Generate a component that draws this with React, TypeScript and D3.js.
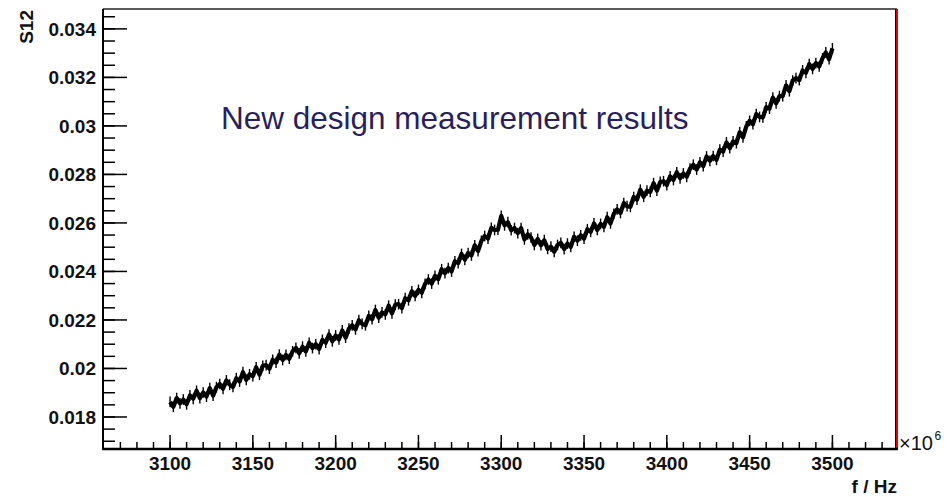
import React from "react";
import * as d3 from "d3";

// S12 measurement, one value every 2 MHz from 3100 to 3500 MHz (values in units of 1e-5)
const freqStartMHz = 3100;
const freqStepMHz = 2;
const s12e5: number[] = [
  1862, 1842, 1878, 1856, 1872, 1852, 1889, 1875, 1908, 1878,
  1901, 1884, 1919, 1888, 1923, 1936, 1916, 1951, 1933, 1924,
  1960, 1946, 1985, 1953, 1976, 1968, 2005, 1974, 2011, 2014,
  1999, 2036, 2024, 2057, 2035, 2056, 2040, 2071, 2085, 2062,
  2090, 2070, 2106, 2084, 2100, 2080, 2118, 2106, 2140, 2112,
  2136, 2120, 2157, 2127, 2164, 2178, 2161, 2199, 2184, 2178,
  2217, 2203, 2241, 2209, 2231, 2223, 2259, 2227, 2263, 2265,
  2249, 2290, 2281, 2318, 2299, 2324, 2312, 2349, 2367, 2350,
  2382, 2368, 2409, 2393, 2414, 2400, 2442, 2434, 2472, 2448,
  2476, 2466, 2508, 2484, 2526, 2546, 2535, 2580, 2571, 2572,
  2629, 2590, 2603, 2570, 2579, 2558, 2579, 2532, 2553, 2540,
  2509, 2534, 2508, 2529, 2493, 2502, 2481, 2509, 2518, 2492,
  2515, 2501, 2543, 2527, 2549, 2535, 2574, 2563, 2598, 2571,
  2596, 2584, 2624, 2598, 2638, 2656, 2641, 2682, 2669, 2666,
  2707, 2696, 2737, 2708, 2733, 2728, 2764, 2733, 2769, 2772,
  2756, 2792, 2777, 2809, 2784, 2804, 2790, 2824, 2840, 2820,
  2850, 2834, 2874, 2856, 2876, 2860, 2902, 2894, 2932, 2908,
  2936, 2929, 2974, 2953, 2998, 3021, 3007, 3049, 3037, 3035,
  3077, 3071, 3117, 3093, 3123, 3123, 3167, 3143, 3187, 3197,
  3189, 3229, 3219, 3255, 3235, 3259, 3245, 3279, 3303, 3275,
  3320,
];
// measurement uncertainty of each point (units of 1e-5)
const s12Err = 22;

const xMajorTicks = [3100, 3150, 3200, 3250, 3300, 3350, 3400, 3450, 3500];
const xMinorTicks = d3.range(3060, 3540, 10);
const yMajorTicks = [0.018, 0.02, 0.022, 0.024, 0.026, 0.028, 0.03, 0.032, 0.034];
const yMajorLabels = ["0.018", "0.02", "0.022", "0.024", "0.026", "0.028", "0.03", "0.032", "0.034"];
const yMinorTicks = d3.range(0, 36).map((i) => 0.017 + i * 0.0005);

const xDomain = [3059.5, 3539];
const yDomain = [0.01668, 0.03482];

const title = "New design measurement results";

export default function App() {
  const left = 103, right = 897, top = 9, bottom = 449;
  const x = d3.scaleLinear().domain(xDomain).range([left, right]);
  const y = d3.scaleLinear().domain(yDomain).range([bottom, top]);

  const pts = s12e5.map((v, i) => ({ f: freqStartMHz + i * freqStepMHz, v: v * 1e-5 }));
  const line = d3
    .line<{ f: number; v: number }>()
    .x((d) => x(d.f))
    .y((d) => y(d.v));

  const font = "'Liberation Sans', Arial, Helvetica, sans-serif";
  const err = s12Err * 1e-5;

  return (
    <svg
      width={947}
      height={497}
      style={{ position: "absolute", left: 0, top: 0, background: "#fff" }}
      fontFamily={font}
    >
      <rect x={0} y={0} width={947} height={497} fill="#fff" />
      {/* data */}
      <path d={line(pts) || ""} fill="none" stroke="#000" strokeWidth={4.2} strokeLinejoin="round" />
      {pts.map((p, i) => (
        <line
          key={"e" + i}
          x1={x(p.f)}
          x2={x(p.f)}
          y1={y(p.v - err)}
          y2={y(p.v + err)}
          stroke="#000"
          strokeWidth={1.4}
        />
      ))}

      {/* frame */}
      <line x1={left} x2={right} y1={top} y2={top} stroke="#222" strokeWidth={1.5} />
      <line x1={right - 1.5} x2={right - 1.5} y1={top} y2={bottom} stroke="#000" strokeWidth={1} />
      <line x1={right} x2={right} y1={top} y2={bottom} stroke="#e00000" strokeWidth={2} />
      <line x1={left} x2={left} y1={top} y2={bottom + 1} stroke="#000" strokeWidth={2} />
      <line x1={left - 1} x2={right + 1} y1={bottom} y2={bottom} stroke="#000" strokeWidth={2.5} />

      {/* y ticks */}
      {yMinorTicks
        .filter((t) => y(t) > top + 2 && y(t) < bottom - 2)
        .map((t, i) => (
          <line key={"ym" + i} x1={left} x2={left + 12} y1={y(t)} y2={y(t)} stroke="#000" strokeWidth={1.5} />
        ))}
      {yMajorTicks.map((t, i) => (
        <g key={"y" + i}>
          <line x1={left} x2={left + 24} y1={y(t)} y2={y(t)} stroke="#000" strokeWidth={1.5} />
          <text x={96} y={y(t) + 6.8} textAnchor="end" fontSize={19} fontWeight="bold" fill="#111">
            {yMajorLabels[i]}
          </text>
        </g>
      ))}

      {/* x ticks */}
      {xMinorTicks
        .filter((t) => x(t) > left + 2 && x(t) < right - 2)
        .map((t, i) => (
          <line key={"xm" + i} x1={x(t)} x2={x(t)} y1={bottom} y2={bottom - 7} stroke="#000" strokeWidth={1.5} />
        ))}
      {xMajorTicks.map((t, i) => (
        <g key={"x" + i}>
          <line x1={x(t)} x2={x(t)} y1={bottom} y2={bottom - 14} stroke="#000" strokeWidth={1.5} />
          <text x={x(t)} y={470} textAnchor="middle" fontSize={19} fontWeight="bold" fill="#111">
            {t}
          </text>
        </g>
      ))}

      {/* exponent */}
      <text x={899} y={450} fontSize={20} fill="#111">
        ×10
      </text>
      <text x={934.5} y={440} fontSize={12} fill="#111">
        6
      </text>

      {/* axis titles */}
      <text x={897} y={493} textAnchor="end" fontSize={19} fontWeight="bold" fill="#111">
        f / Hz
      </text>
      <text transform="translate(33,10) rotate(-90)" textAnchor="end" fontSize={19} fontWeight="bold" fill="#111">
        S12
      </text>

      {/* annotation */}
      <text x={221} y={128.5} fontSize={31.5} fill="#2a1f5e">
        {title}
      </text>
    </svg>
  );
}
